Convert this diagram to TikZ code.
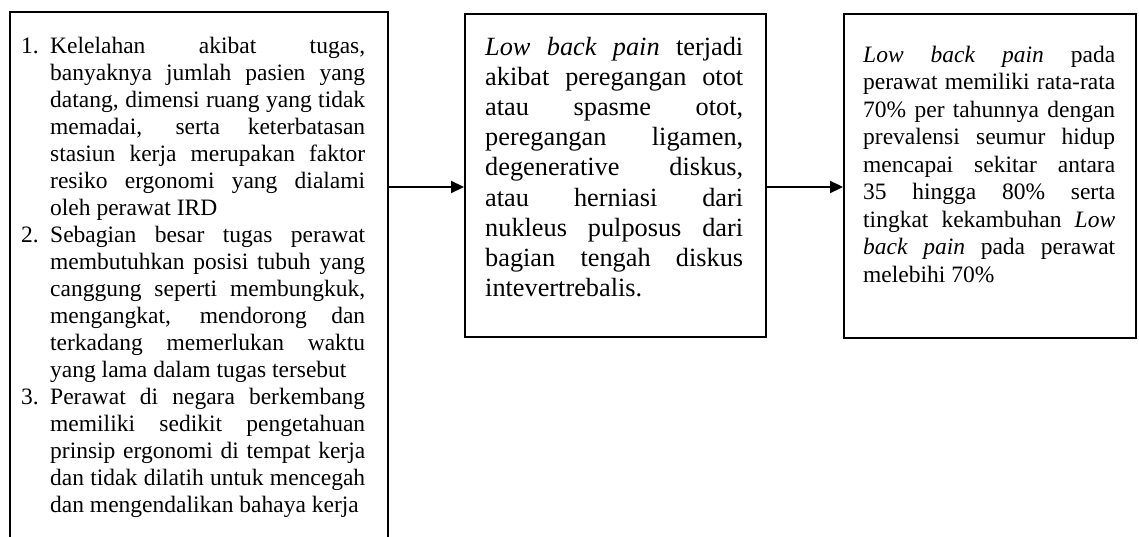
\documentclass[tikz,border=0pt]{standalone}
\usepackage{fontspec}
\setmainfont{Liberation Serif}
\usetikzlibrary{arrows.meta}
\tolerance=10000
\hbadness=10000
\newcommand\numpara[1]{\par\noindent\hangindent=29pt\hangafter=1\makebox[29pt][l]{#1}}
\begin{document}
\begin{tikzpicture}[x=1pt,y=-1pt,
  box/.style={draw=black, line width=2.2pt, rectangle, inner sep=0pt, anchor=north west},
  body/.style={anchor=north west, inner sep=0pt, align=justify,
    font=\fontsize{23.5}{27}\selectfont},
  link/.style={line width=2.2pt, -{Triangle[length=13pt,width=12pt]}}]
\useasboundingbox (0,0) rectangle (1139,537);
\clip (0,0) rectangle (1139,537);

% frames
\node[box, minimum width=378.5pt, minimum height=560pt] (lbox) at (8.5,11) {};
\node[box, minimum width=301pt, minimum height=323pt] (mbox) at (464,13) {};
\node[box, minimum width=292pt, minimum height=324pt] (rbox) at (843,13) {};

% texts
\node[body, text width=344pt] (ltext) at (21,26) {%
\numpara{1.}\rule{0pt}{20pt}Kelelahan akibat tugas,\linebreak
banyaknya jumlah pasien yang\linebreak
datang, dimensi ruang yang tidak\linebreak
memadai, serta keterbatasan\linebreak
stasiun kerja merupakan faktor\linebreak
resiko ergonomi yang dialami\linebreak
oleh perawat IRD
\numpara{2.}Sebagian besar tugas perawat\linebreak
membutuhkan posisi tubuh yang\linebreak
canggung seperti membungkuk,\linebreak
mengangkat, mendorong dan\linebreak
terkadang memerlukan waktu\linebreak
yang lama dalam tugas tersebut
\numpara{3.}Perawat di negara berkembang\linebreak
memiliki sedikit pengetahuan\linebreak
prinsip ergonomi di tempat kerja\linebreak
dan tidak dilatih untuk mencegah\linebreak
dan mengendalikan bahaya kerja\par};

\node[body, text width=258pt, font=\fontsize{26.3}{30.2}\selectfont] (mtext) at (485,33) {%
\rule{0pt}{22pt}\textit{Low back pain} terjadi\linebreak
akibat peregangan otot\linebreak
atau spasme otot,\linebreak
peregangan ligamen,\linebreak
degenerative diskus,\linebreak
atau herniasi dari\linebreak
nukleus pulposus dari\linebreak
bagian tengah diskus\linebreak
intevertrebalis.\par};

\node[body, text width=252pt, font=\fontsize{23.5}{27.5}\selectfont] (rtext) at (863,42) {%
\rule{0pt}{20pt}\textit{Low back pain} pada\linebreak
perawat memiliki rata-rata\linebreak
70\% per tahunnya dengan\linebreak
prevalensi seumur hidup\linebreak
mencapai sekitar antara\linebreak
35 hingga 80\% serta\linebreak
tingkat kekambuhan \textit{Low}\linebreak
\textit{back pain} pada perawat\linebreak
melebihi 70\%\par};

% connectors
\coordinate (lane) at (0,187);
\draw[link] (lbox.east |- lane) -- (mbox.west |- lane);
\draw[link] (mbox.east |- lane) -- (rbox.west |- lane);
\end{tikzpicture}
\end{document}
